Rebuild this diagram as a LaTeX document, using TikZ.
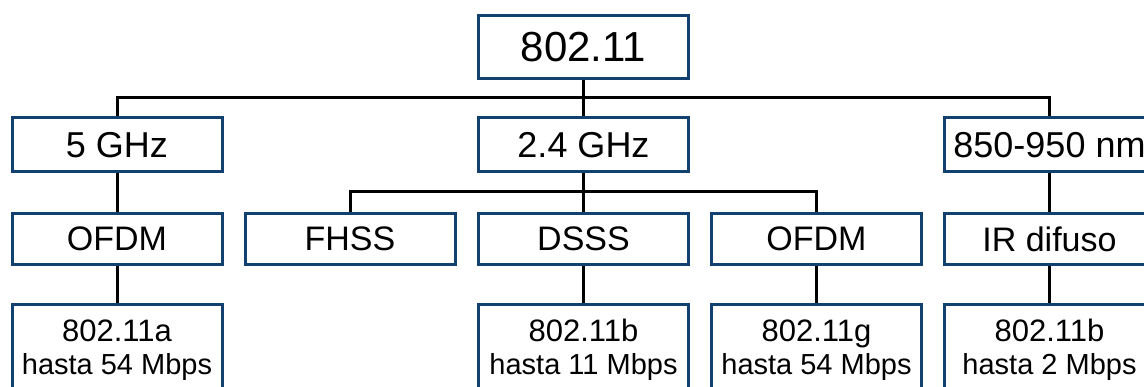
\documentclass[tikz,border=0pt]{standalone}
\usepackage{fontspec}
\setmainfont{Liberation Sans}
\usetikzlibrary{backgrounds}
\definecolor{boxblue}{HTML}{12406F}
\begin{document}
\begin{tikzpicture}[x=1pt,y=-1pt,
  box/.style={draw=boxblue, line width=3pt, fill=white, inner sep=0pt, minimum width=210pt, align=center},
  big/.style={box, minimum height=63pt, font=\fontsize{42}{48}\selectfont},
  mid/.style={box, minimum height=54pt, font=\fontsize{36}{42}\selectfont},
  modrow/.style={box, minimum height=51pt, font=\fontsize{34}{40}\selectfont},
  low/.style={box, minimum height=91pt, font=\fontsize{29}{33}\selectfont},
  conn/.style={draw=black, line width=3pt}]
\newcommand{\stdname}[1]{{\fontsize{31}{33}\selectfont #1}}
\useasboundingbox (0,0) rectangle (1144,387);
% level 0
\node[big] (top) at (583.5,47) {802.11};
% level 1
\node[mid] (g5) at (117,145) {5 GHz};
\node[mid] (g24) at (583.5,145) {2.4 GHz};
\node[mid] (nm) at (1049.5,145) {850-950 nm};
% level 2
\node[modrow] (ofdmA) at (117,239) {OFDM};
\node[modrow] (fhss) at (350,239) {FHSS};
\node[modrow] (dsss) at (583.5,239) {DSSS};
\node[modrow] (ofdmG) at (816.5,239) {OFDM};
\node[modrow] (ir) at (1049.5,239) {IR difuso};
% level 3
\node[low] (sa) at (117,350) {\stdname{802.11a}\\hasta 54 Mbps};
\node[low] (sb) at (583.5,350) {\stdname{802.11b}\\hasta 11 Mbps};
\node[low] (sg) at (816.5,350) {\stdname{802.11g}\\hasta 54 Mbps};
\node[low] (sir) at (1049.5,350) {\stdname{802.11b}\\hasta 2 Mbps};
% junctions
\coordinate (j1) at (583.5,98);
\coordinate (j2) at (583.5,192);
\begin{scope}[on background layer]
\draw[conn] (g5.center) |- (j1) -| (nm.center);
\draw[conn] (top) -- (g24);
\draw[conn] (fhss.center) |- (j2) -| (ofdmG.center);
\draw[conn] (g24) -- (dsss);
\draw[conn] (g5) -- (ofdmA);
\draw[conn] (ofdmA) -- (sa);
\draw[conn] (dsss) -- (sb);
\draw[conn] (ofdmG) -- (sg);
\draw[conn] (nm) -- (ir);
\draw[conn] (ir) -- (sir);
\end{scope}
\end{tikzpicture}
\end{document}
